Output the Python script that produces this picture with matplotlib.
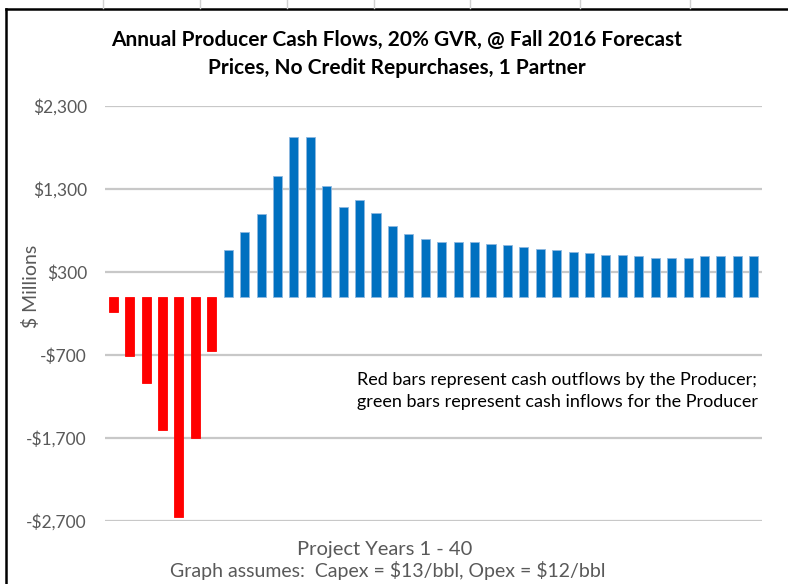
import matplotlib
matplotlib.use("Agg")
import matplotlib.pyplot as plt
from matplotlib.lines import Line2D

years = list(range(1, 41))
outflows = [-180, -710, -1036, -1602, -2650, -1699, -650]
inflows = [563, 776, 993, 1458, 1924, 1924, 1342, 1089, 1165, 1008, 855, 755,
           695, 659, 659, 659, 643, 623, 602, 583, 563, 542, 526, 506, 506,
           487, 466, 466, 466, 487, 487, 487, 487]
values = outflows + inflows
colors = ["#FF0000"] * len(outflows) + ["#0070C0"] * len(inflows)
yticks = [-2700, -1700, -700, 300, 1300, 2300]
ytick_labels = ["-$2,700", "-$1,700", "-$700", "$300", "$1,300", "$2,300"]

plt.rcParams['font.family'] = ['Lato', 'DejaVu Sans']
plt.rcParams['text.parse_math'] = False
W, H = 788, 584
fig = plt.figure(figsize=(W / 100, H / 100), dpi=100)
ax = fig.add_axes([105 / W, (H - 521) / H, (762 - 105) / W, (521 - 106) / H])

edge = ["#FF0000" if c == "#FF0000" else "#8DB8E0" for c in colors]
ax.bar(years, values, width=0.55, color=colors, edgecolor=edge, linewidth=0.6, zorder=3)
ax.set_xlim(0.5, 40.5)
ax.set_ylim(-2700, 2300)
ax.set_yticks(yticks)
ax.set_yticklabels(ytick_labels, fontsize=12.5, color="#595959")
ax.set_xticks([])
ax.tick_params(axis='y', length=0, pad=13)
ax.grid(axis='y', color="#C8C8C8", linewidth=1.6, zorder=0)
for s in ax.spines.values():
    s.set_visible(False)

fig.text(31 / W, 1 - 286 / H, "$ Millions", rotation=90, ha='center', va='center',
         fontsize=14, color="#595959")

fig.text(397 / W, 1 - 40 / H, "Annual Producer Cash Flows, 20% GVR, @ Fall 2016 Forecast",
         ha='center', va='center', fontsize=15, fontweight='bold', color='black')
fig.text(397 / W, 1 - 68 / H, "Prices, No Credit Repurchases, 1 Partner",
         ha='center', va='center', fontsize=15, fontweight='bold', color='black')

fig.text(357 / W, 1 - 380 / H, "Red bars represent cash outflows by the Producer;",
         ha='left', va='center', fontsize=13, color='black')
fig.text(357 / W, 1 - 402 / H, "green bars represent cash inflows for the Producer",
         ha='left', va='center', fontsize=13, color='black')

fig.text(385 / W, 1 - 550 / H, "Project Years 1 - 40", ha='center', va='center',
         fontsize=14.5, color="#595959")
fig.text(388 / W, 1 - 570 / H, "Graph assumes:  Capex = $13/bbl, Opex = $12/bbl",
         ha='center', va='center', fontsize=14, color="#595959")

# chart frame and sheet cell lines
fig.add_artist(Line2D([6 / W, 6 / W], [0, 1 - 9 / H], color='black', linewidth=1.8,
                      transform=fig.transFigure))
fig.add_artist(Line2D([6 / W, 1], [1 - 9 / H, 1 - 9 / H], color='black', linewidth=1.8,
                      transform=fig.transFigure))
for xc in [103, 200, 287, 374, 470, 580, 690]:
    fig.add_artist(Line2D([xc / W, xc / W], [1 - 8 / H, 1], color='#D0D0D0', linewidth=1,
                          transform=fig.transFigure))

fig.savefig("out.png", dpi=100)
